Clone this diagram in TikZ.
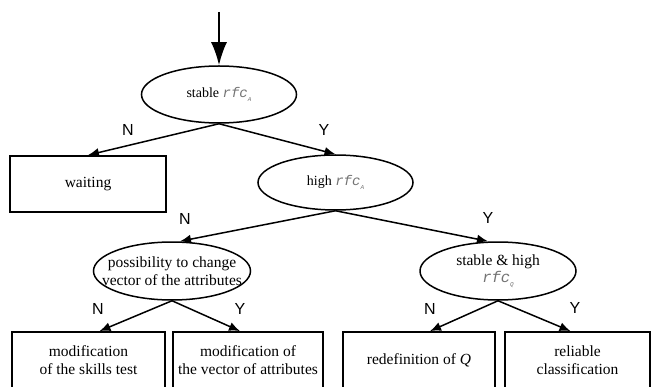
\documentclass[tikz,border=0pt]{standalone}
\usepackage{fontspec}
\setmainfont{Liberation Serif}
\setsansfont{Liberation Sans}
\setmonofont{Liberation Mono}
\usetikzlibrary{shapes.geometric,arrows.meta}
\newcommand{\rfcx}[1]{{\color{black!55}\ttfamily\itshape rfc\raisebox{-0.45ex}{\fontsize{6}{6}\selectfont #1}}}
\begin{document}
\begin{tikzpicture}[x=1pt,y=-1pt,
  oval/.style={ellipse,draw,line width=1.5pt,inner sep=0pt},
  txt/.style={align=center,inner sep=0pt,font=\fontsize{15.5}{17.5}\selectfont},
  txts/.style={align=center,inner sep=0pt,font=\fontsize{14}{16}\selectfont},
  rect/.style={rectangle,draw,line width=1.8pt,inner sep=0pt,align=center,font=\fontsize{15.5}{17.5}\selectfont},
  conn/.style={line width=1.5pt,-{Latex[length=11pt,width=9pt]}},
  lbl/.style={font=\sffamily\fontsize{16}{16}\selectfont}]
\useasboundingbox (0,0) rectangle (652,387);
% decision ellipses (shape) and their texts
\node[oval,minimum width=155pt,minimum height=57pt] (e1) at (219,94.5) {};
\node[txts] (e1t) at (e1.center) {stable \rfcx{A}};
\node[rect,minimum width=156pt,minimum height=56pt] (wait) at (88,184) {waiting};
\node[oval,minimum width=155pt,minimum height=55pt] (e2) at (335.5,182.5) {};
\node[txts] (e2t) at (e2.center) {high \rfcx{A}};
\node[oval,minimum width=157pt,minimum height=58pt] (e3) at (172,271) {};
\node[txt] (e3t) at (e3.center) {possibility to change\\vector of the attributes};
\node[oval,minimum width=156pt,minimum height=58pt] (e4) at (498,271) {};
\node[txt] (e4t) at (e4.center) {stable \& high\\\rfcx{Q}};
% bottom boxes
\node[rect,minimum width=153pt,minimum height=56pt] (b1) at (88.5,360) {modification\\of the skills test};
\node[rect,minimum width=150pt,minimum height=56pt] (b2) at (248,360) {modification of\\the vector of attributes};
\node[rect,minimum width=152pt,minimum height=56pt] (b3) at (419,360) {redefinition of \textit{Q}};
\node[rect,minimum width=145pt,minimum height=56pt] (b4) at (577.5,360) {reliable\\classification};
% entry arrow
\coordinate (start) at (219,12);
\draw[line width=2pt,-{Latex[length=23pt,width=16pt]}] (start) -- (e1.north);
% connectors
\draw[conn] (e1.south) -- (wait.north);
\draw[conn] (e1.south) -- (e2.north);
\draw[conn] (e2.south) -- ([xshift=8pt]e3.north);
\draw[conn] (e2.south) -- ([xshift=-10pt]e4.north);
\draw[conn] (e3.south) -- ([xshift=11pt]b1.north);
\draw[conn] (e3.south) -- ([xshift=-8pt]b2.north);
\draw[conn] (e4.south) -- ([xshift=11pt]b3.north);
\draw[conn] (e4.south) -- ([xshift=-7pt]b4.north);
% labels
\node[lbl] (n1) at (128,130) {N};
\node[lbl] (y1) at (324,130) {Y};
\node[lbl] (n2) at (185,219) {N};
\node[lbl] (y2) at (488,218) {Y};
\node[lbl] (n3) at (98,309) {N};
\node[lbl] (y3) at (240,309) {Y};
\node[lbl] (n4) at (430,309) {N};
\node[lbl] (y4) at (575,308) {Y};
\end{tikzpicture}
\end{document}
